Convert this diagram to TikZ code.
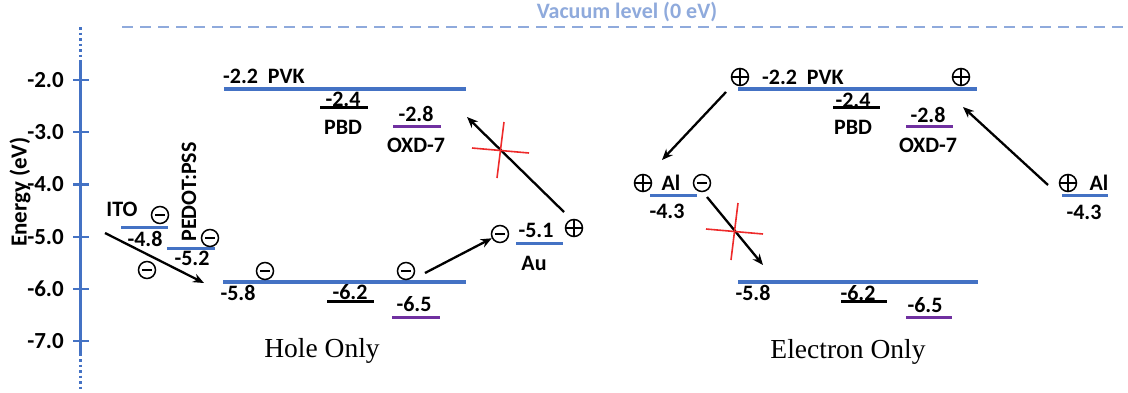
\documentclass[tikz,border=0pt]{standalone}
\usepackage{fontspec}
\setmainfont{Carlito}
\newfontfamily\captionfont{Liberation Serif}
\usetikzlibrary{arrows.meta}

\definecolor{lvlblue}{HTML}{4472C4}
\definecolor{vacblue}{HTML}{8FAADC}
\definecolor{oxdpurple}{HTML}{7030A0}
\definecolor{crossred}{HTML}{EE2A2A}

\tikzset{
  lbl/.style={font=\bfseries\fontsize{22}{25}\selectfont, inner sep=0pt},
  axistext/.style={font=\bfseries\fontsize{23}{26}\selectfont, inner sep=0pt},
  caption/.style={font=\captionfont\fontsize{27.5}{30}\selectfont, inner sep=0pt},
  axisline/.style={draw=lvlblue, line width=3pt},
  axisdots/.style={draw=lvlblue, line width=3pt, dash pattern=on 2.5pt off 3pt},
  tick/.style={draw=lvlblue, line width=2.2pt},
  hostlevel/.style={draw=lvlblue, line width=4.5pt},
  electrode/.style={draw=lvlblue, line width=3pt},
  pbdlevel/.style={draw=black, line width=3pt},
  oxdlevel/.style={draw=oxdpurple, line width=3pt},
  vacuum/.style={draw=vacblue, line width=1.8pt, dash pattern=on 11pt off 7pt},
  carrier/.style={draw=black, line width=2.3pt, -{Stealth[length=11pt,width=9pt]}},
  blocked/.style={draw=crossred, line width=1.6pt},
  eminus/.style={circle, draw, line width=1.5pt, minimum size=17pt, inner sep=0pt,
    path picture={\draw[line width=1.5pt]
      ([xshift=-5pt]path picture bounding box.center) --
      ([xshift=5pt]path picture bounding box.center);}},
  hplus/.style={circle, draw, line width=1.5pt, minimum size=17pt, inner sep=0pt,
    path picture={\draw[line width=1.5pt]
      ([xshift=-9pt]path picture bounding box.center) --
      ([xshift=9pt]path picture bounding box.center)
      ([yshift=-9pt]path picture bounding box.center) --
      ([yshift=9pt]path picture bounding box.center);}},
}

\begin{document}
\begin{tikzpicture}[x=1pt, y=-1pt]
\useasboundingbox[fill=white] (0,0) rectangle (1128,392);

% ---------- energy axis ----------
\draw[axisdots] (80,27) -- (80,60);
\draw[axisline] (80,60) -- (80,356);
\draw[axisdots] (80,359) -- (80,390);
\foreach \e/\yy in {2/80, 3/132.2, 4/184.4, 5/236.6, 6/288.8, 7/341} {
  \draw[tick] (73,\yy) -- (89,\yy);
  \node[axistext, anchor=east] (tick\e) at (64,\yy) {-\e.0};
}
\node[axistext, rotate=90] (axistitle) at (20,192) {Energy (eV)};

% ---------- vacuum level ----------
\draw[vacuum] (122,27) -- (1128,27);
\node[lbl, text=vacblue] (vaclabel) at (627,12) {Vacuum level (0 eV)};

% ================= hole-only device =================
\draw[hostlevel] (224,89) -- (466,89);
\node[lbl, anchor=west] (hpvk) at (223,76) {-2.2\hspace{0.45em}PVK};
\draw[pbdlevel] (320,107) -- (368,107);
\node[lbl] (hpbdE) at (343,99) {-2.4};
\node[lbl] (hpbd) at (343,127) {PBD};
\draw[oxdlevel] (393,126) -- (441,126);
\node[lbl] (hoxdE) at (416,114) {-2.8};
\node[lbl] (hoxd) at (416,145) {OXD-7};

\draw[electrode] (121,227) -- (168,227);
\node[lbl] (ito) at (122,209) {ITO};
\node[lbl] (itoE) at (145,239) {-4.8};
\draw[electrode] (167,248) -- (215,248);
\node[lbl, rotate=90] (pedot) at (189,192) {PEDOT:PSS};
\node[lbl] (pedotE) at (192,258) {-5.2};

\draw[hostlevel] (223,282) -- (466,282);
\node[lbl] (hhomo) at (238,293) {-5.8};
\draw[pbdlevel] (327,301) -- (374,301);
\node[lbl] (hpbdH) at (350,292) {-6.2};
\draw[oxdlevel] (392,317) -- (440,317);
\node[lbl] (hoxdH) at (414,304) {-6.5};

\draw[electrode] (516,243) -- (563,243);
\node[lbl] (auE) at (536,230) {-5.1};
\node[lbl] (au) at (534,263) {Au};

\node[eminus] (hq1) at (160,215) {};
\node[eminus] (hq2) at (210,238) {};
\node[eminus] (hq3) at (147,270) {};
\node[eminus] (hq4) at (265,271) {};
\node[eminus] (hq5) at (406,271) {};
\node[eminus] (hq6) at (500,234) {};
\node[hplus] (hq7) at (574,228) {};

\coordinate (hA1s) at (105,233);
\coordinate (hA1e) at (204,283);
\coordinate (hA2s) at (425,273);
\coordinate (hA3s) at (564,212);
\coordinate (hA3e) at (467,117);
\draw[carrier] (hA1s) -- (hA1e);
\draw[carrier] (hA2s) -- (hq6);
\draw[carrier] (hA3s) -- (hA3e);
\draw[blocked] (504,122) -- (497,178);
\draw[blocked] (472,148) -- (529,153);

\node[caption] (holeonly) at (322,351) {Hole Only};

% ================= electron-only device =================
\draw[hostlevel] (738,89) -- (977,89);
\node[lbl, anchor=west] (epvk) at (762,77) {-2.2\hspace{0.45em}PVK};
\draw[pbdlevel] (833,107) -- (880,107);
\node[lbl] (epbdE) at (853,100) {-2.4};
\node[lbl] (epbd) at (853,127) {PBD};
\draw[oxdlevel] (906,126) -- (953,126);
\node[lbl] (eoxdE) at (928,115) {-2.8};
\node[lbl] (eoxd) at (928,145) {OXD-7};

\draw[electrode] (650,195) -- (697,195);
\node[lbl] (alL) at (671,183) {Al};
\node[lbl] (alLE) at (667,211) {-4.3};
\draw[electrode] (1062,195) -- (1108,195);
\node[lbl] (alR) at (1099,183) {Al};
\node[lbl] (alRE) at (1084,212) {-4.3};

\draw[hostlevel] (738,282) -- (978,282);
\node[lbl] (ehomo) at (753,293) {-5.8};
\draw[pbdlevel] (841,301) -- (887,301);
\node[lbl] (epbdH) at (858,293) {-6.2};
\draw[oxdlevel] (906,317) -- (952,317);
\node[lbl] (eoxdH) at (925,305) {-6.5};

\node[hplus] (eq1) at (740,77) {};
\node[hplus] (eq2) at (961,77) {};
\node[hplus] (eq3) at (643,183) {};
\node[eminus] (eq4) at (702,183) {};
\node[hplus] (eq5) at (1068,183) {};

\coordinate (eB1s) at (726,92);
\coordinate (eB1e) at (662,160);
\coordinate (eB2s) at (707,197);
\coordinate (eB2e) at (763,265);
\coordinate (eB3s) at (1048,185);
\coordinate (eB3e) at (963,107);
\draw[carrier] (eB1s) -- (eB1e);
\draw[carrier] (eB2s) -- (eB2e);
\draw[carrier] (eB3s) -- (eB3e);
\draw[blocked] (738,203) -- (731,260);
\draw[blocked] (706,229) -- (763,234);

\node[caption] (electrononly) at (848,352) {Electron Only};
\end{tikzpicture}
\end{document}
